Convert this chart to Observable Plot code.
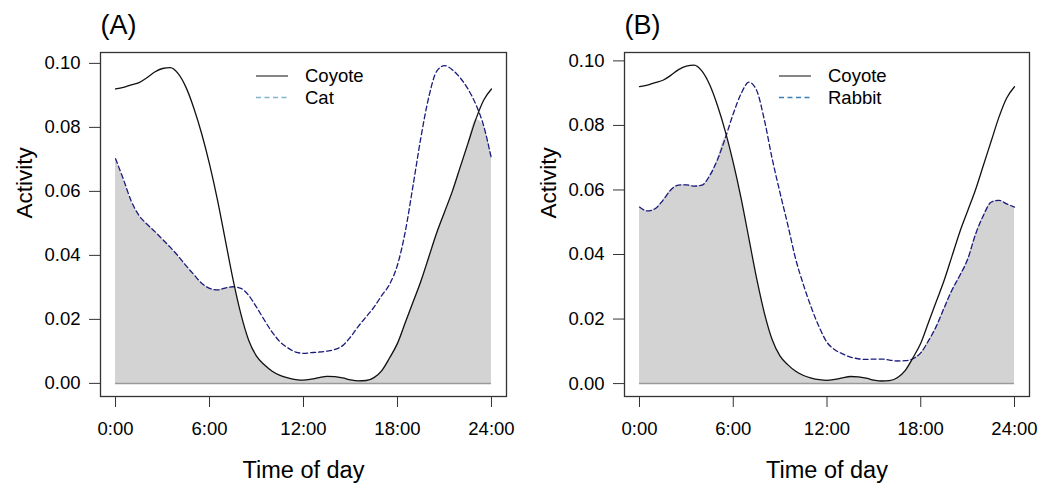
<!DOCTYPE html>
<html><head><meta charset="utf-8">
<script src="https://cdn.jsdelivr.net/npm/d3@7"></script>
<script src="https://cdn.jsdelivr.net/npm/@observablehq/plot@0.6"></script>
<style>
body{margin:0;background:#fff;font-family:"Liberation Sans",Arial,sans-serif;}
#wrap{position:relative;width:1052px;height:485px;background:#fff;}
.panel{position:absolute;top:0;width:526px;height:485px;}
.legend{position:absolute;top:60px;}
</style></head><body><div id="wrap"></div>
<script>
// Hours of day (common grid for all series)
const hours = [0,0.5,1,1.5,2,2.5,3,3.5,4,4.5,5,5.5,6,6.5,7,7.5,8,8.5,9,9.5,10,10.5,11,11.5,12,12.5,13,13.5,14,14.5,15,15.5,16,16.5,17,17.5,18,18.5,19,19.5,20,20.5,21,21.5,22,22.5,23,23.5,24];
const coyote = [0.092,0.0925,0.0933,0.094,0.0955,0.0973,0.0984,0.0987,0.0968,0.0925,0.086,0.078,0.0685,0.0575,0.045,0.0325,0.0217,0.0135,0.0085,0.0058,0.0038,0.0025,0.0017,0.0012,0.001,0.0013,0.0018,0.0022,0.0021,0.0017,0.0011,0.0008,0.0009,0.0018,0.004,0.008,0.0125,0.019,0.0255,0.032,0.0395,0.047,0.0535,0.06,0.0675,0.075,0.0825,0.0885,0.092];
const cat = [0.0702,0.0638,0.057,0.0525,0.0498,0.0475,0.045,0.0425,0.0398,0.0368,0.034,0.0313,0.0297,0.0292,0.0298,0.0302,0.0297,0.0275,0.0238,0.0198,0.016,0.013,0.0111,0.0098,0.0094,0.0096,0.0098,0.0101,0.0106,0.0118,0.0145,0.0178,0.0208,0.0238,0.0275,0.031,0.037,0.0475,0.062,0.077,0.0895,0.0975,0.0993,0.098,0.0955,0.092,0.0872,0.0805,0.0702];
const rabbit = [0.0547,0.0535,0.0542,0.0568,0.06,0.0615,0.0616,0.0612,0.0615,0.0645,0.0695,0.0762,0.0836,0.0898,0.0934,0.0908,0.0815,0.0695,0.059,0.049,0.0385,0.0305,0.0235,0.0175,0.0128,0.0105,0.0092,0.0082,0.0077,0.0075,0.0076,0.0076,0.0073,0.007,0.0071,0.0077,0.0095,0.0133,0.0178,0.0235,0.029,0.0335,0.0385,0.0462,0.052,0.0562,0.0568,0.0557,0.0547];
const xTicks = [0,6,12,18,24];
const xTickLabels = ["0:00","6:00","12:00","18:00","24:00"];
const yTicks = [0,0.02,0.04,0.06,0.08,0.10];
const panelTags = ["(A)","(B)"];
const speciesA = ["Coyote","Cat"];
const speciesB = ["Coyote","Rabbit"];

const wrap = document.getElementById("wrap");

function panel(left, tag, names, other, opts){
  const rows = hours.map((h,i)=>({h, c: coyote[i], o: other[i], m: Math.min(coyote[i], other[i])}));
  const div = document.createElement("div");
  div.className = "panel";
  div.style.left = left + "px";
  const plot = Plot.plot({
    width: 526, height: 485,
    marginLeft: opts.ml, marginRight: opts.mr, marginTop: 52, marginBottom: 89,
    style: {fontFamily: '"Liberation Sans", Arial, sans-serif', fontSize: "18px", background: "white", color: "black"},
    x: {domain: [-0.96, 24.96], ticks: xTicks, label: null},
    y: {domain: opts.yd, ticks: yTicks, label: null},
    marks: [
      Plot.areaY(rows, {x: "h", y: "m", fill: "#d3d3d3", curve: "monotone-x"}),
      Plot.ruleY([0], {x1: hours[0], x2: hours[hours.length-1], stroke: "#9a9a9a", strokeWidth: 1.5}),
      Plot.line(rows, {x: "h", y: "o", stroke: "#1b1b7e", strokeWidth: 1.3, strokeDasharray: "5,3", curve: "monotone-x"}),
      Plot.line(rows, {x: "h", y: "c", stroke: "#111", strokeWidth: 1.3, curve: "monotone-x"}),
      Plot.frame({stroke: "#333", strokeWidth: 1.3}),
      Plot.axisY(yTicks, {tickSize: 11, tickPadding: 9, tickFormat: d3.format(".2f"), fontSize: 18.5, stroke: "#333"}),
      Plot.axisX(xTicks, {tickSize: 11, tickPadding: 14, tickFormat: (d)=>xTickLabels[xTicks.indexOf(d)], fontSize: 18.5, stroke: "#333"}),
      Plot.text([tag], {frameAnchor: "top-left", textAnchor: "start", lineAnchor: "middle", dy: -27, dx: 0, fontSize: 27}),
      Plot.text(["Time of day"], {frameAnchor: "bottom", lineAnchor: "middle", dy: 74, fontSize: 23.5}),
      Plot.text(["Activity"], {frameAnchor: "left", rotate: -90, lineAnchor: "middle", dx: -76, dy: -6, fontSize: 22.5})
    ]
  });
  div.appendChild(plot);
  // legend
  const ns = "http://www.w3.org/2000/svg";
  const lg = document.createElementNS(ns, "svg");
  lg.setAttribute("class", "legend");
  lg.setAttribute("width", 160); lg.setAttribute("height", 50);
  lg.style.left = opts.lx + "px";
  const styles = [{stroke: "#444", dash: null}, {stroke: opts.legDash, dash: "5,3.5"}];
  names.forEach((n, i) => {
    const y = 16 + i * 21.5;
    const ln = document.createElementNS(ns, "line");
    ln.setAttribute("x1", 6); ln.setAttribute("x2", 38);
    ln.setAttribute("y1", y); ln.setAttribute("y2", y);
    ln.setAttribute("stroke", styles[i].stroke); ln.setAttribute("stroke-width", 1.3);
    if (styles[i].dash) ln.setAttribute("stroke-dasharray", styles[i].dash);
    lg.appendChild(ln);
    const t = document.createElementNS(ns, "text");
    t.setAttribute("x", 55); t.setAttribute("y", y);
    t.setAttribute("dy", "0.35em");
    t.setAttribute("font-size", 18.5);
    t.setAttribute("font-family", '"Liberation Sans", Arial, sans-serif');
    t.textContent = n;
    lg.appendChild(t);
  });
  div.appendChild(lg);
  wrap.appendChild(div);
}

panel(0, panelTags[0], speciesA, cat, {ml: 100, mr: 20, yd: [-0.0041, 0.1034], lx: 250, legDash: "#7fb3cf"});
panel(526, panelTags[1], speciesB, rabbit, {ml: 98, mr: 23, yd: [-0.004, 0.1026], lx: 247, legDash: "#3b7fb6"});
</script>
</body></html>
